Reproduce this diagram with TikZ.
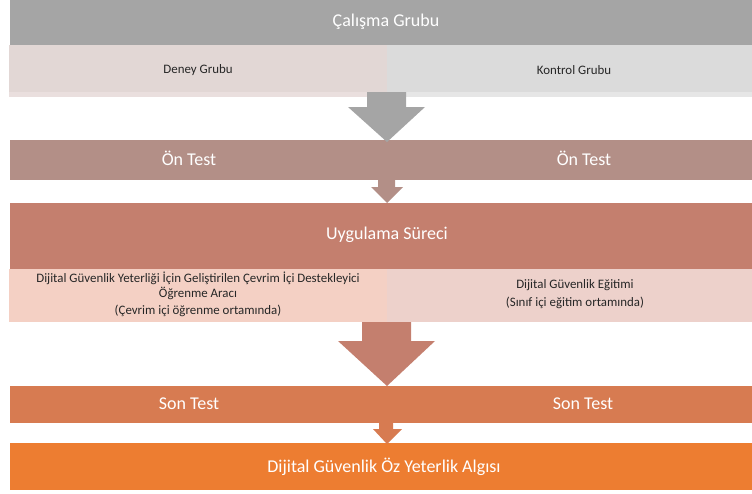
\documentclass[tikz,border=0pt]{standalone}
\usepackage{fontspec}
\setmainfont{Carlito}
\definecolor{cGray}{HTML}{A5A5A5}
\definecolor{cDeney}{HTML}{E2D7D5}
\definecolor{cDeneyS}{HTML}{EADFDE}
\definecolor{cKontrol}{HTML}{DBDBDB}
\definecolor{cKontrolS}{HTML}{E6E6E6}
\definecolor{cOn}{HTML}{B38F87}
\definecolor{cUyg}{HTML}{C47F6E}
\definecolor{cLeft}{HTML}{F4D0C4}
\definecolor{cRight}{HTML}{EDD1CB}
\definecolor{cSon}{HTML}{D77B51}
\definecolor{cFinal}{HTML}{ED7D31}
\definecolor{cText}{HTML}{262626}
\tikzset{
  bar/.style={draw=none, inner sep=0pt, outer sep=0pt},
  bigtext/.style={text=white, font=\fontsize{18}{21}\selectfont, inner sep=0pt},
  smalltext/.style={text=cText, font=\fontsize{12.9}{15}\selectfont, inner sep=0pt, align=center}
}
\begin{document}
\begin{tikzpicture}[x=1pt,y=-1pt]
\useasboundingbox (0,0) rectangle (752,493);
% rows
\node[bar, fill=cGray, minimum width=742pt, minimum height=45pt] (top) at (381,22.5) {};
\node[bar, fill=cDeneyS, minimum width=378pt, minimum height=52pt] (deneyS) at (198,71) {};
\node[bar, fill=cKontrolS, minimum width=365pt, minimum height=52pt] (kontrolS) at (569.5,71) {};
\node[bar, fill=cDeney, minimum width=378pt, minimum height=47pt] (deney) at (198,68.5) {};
\node[bar, fill=cKontrol, minimum width=365pt, minimum height=47pt] (kontrol) at (569.5,68.5) {};
\node[bar, fill=cOn, minimum width=742pt, minimum height=40pt] (on) at (381,160) {};
\node[bar, fill=cUyg, minimum width=742pt, minimum height=66pt] (uyg) at (381,236) {};
\node[bar, fill=cLeft, minimum width=378pt, minimum height=53pt] (left) at (198,295.5) {};
\node[bar, fill=cRight, minimum width=365pt, minimum height=53pt] (right) at (569.5,295.5) {};
\node[bar, fill=cSon, minimum width=742pt, minimum height=37pt] (son) at (381,404.5) {};
\node[bar, fill=cFinal, minimum width=742pt, minimum height=47pt] (final) at (381,466.5) {};
% block arrows
\fill[cGray] (367,92) -- (406,92) -- (406,107) -- (425,107) -- (387,142) -- (348,107) -- (367,107) -- cycle;
\fill[cOn] (378,180) -- (395,180) -- (395,187) -- (403,187) -- (387,203) -- (371,187) -- (378,187) -- cycle;
\fill[cUyg] (362,322) -- (411,322) -- (411,341) -- (435,341) -- (387,386) -- (338,341) -- (362,341) -- cycle;
\fill[cSon] (379,423) -- (393,423) -- (393,429) -- (402,429) -- (387,444) -- (373,429) -- (379,429) -- cycle;
% texts
\node[bigtext] (tTop) at (386,22) {Çalışma Grubu};
\node[smalltext] (tDeney) at (198,70) {Deney Grubu};
\node[smalltext] (tKontrol) at (574,70) {Kontrol Grubu};
\node[bigtext] (tOn1) at (189,158) {Ön Test};
\node[bigtext] (tOn2) at (584,158) {Ön Test};
\node[bigtext] (tUyg) at (387,235) {Uygulama Süreci};
\node[smalltext] (tL1) at (198,278) {Dijital Güvenlik Yeterliği İçin Geliştirilen Çevrim İçi Destekleyici};
\node[smalltext] (tL2) at (198,293) {Öğrenme Aracı};
\node[smalltext] (tL3) at (198,311) {(Çevrim içi öğrenme ortamında)};
\node[smalltext] (tR1) at (575,285) {Dijital Güvenlik Eğitimi};
\node[smalltext] (tR2) at (575,303) {(Sınıf içi eğitim ortamında)};
\node[bigtext] (tSon1) at (189,404) {Son Test};
\node[bigtext] (tSon2) at (583,404) {Son Test};
\node[bigtext] (tFinal) at (384,467) {Dijital Güvenlik Öz Yeterlik Algısı};
\end{tikzpicture}
\end{document}
